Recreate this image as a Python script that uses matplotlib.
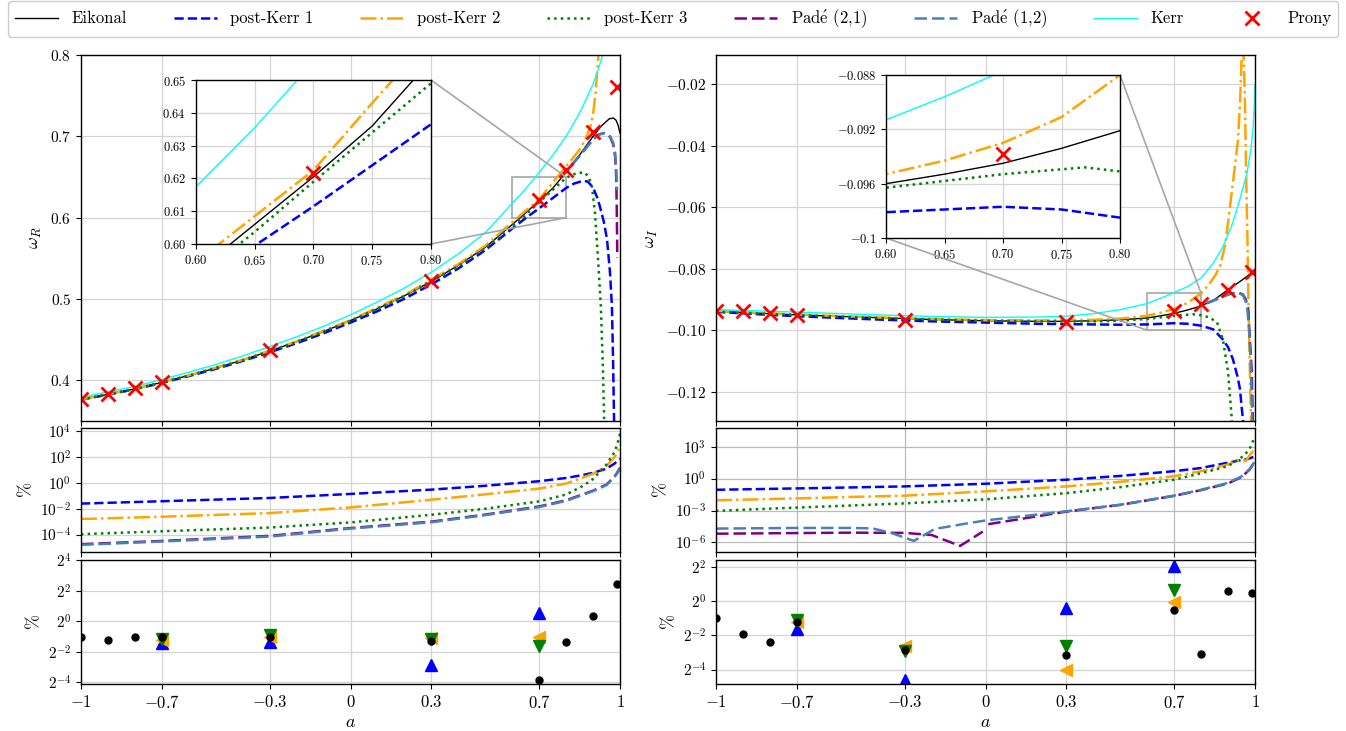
import numpy as np
import matplotlib
matplotlib.use('Agg')
import matplotlib.pyplot as plt
from matplotlib.ticker import NullLocator
from mpl_toolkits.axes_grid1.inset_locator import mark_inset

plt.rcParams['mathtext.fontset'] = 'cm'
plt.rcParams['font.family'] = ['cmr10', 'DejaVu Serif']
plt.rcParams['axes.formatter.use_mathtext'] = True
plt.rcParams['font.size'] = 11
plt.rcParams['axes.linewidth'] = 1.0

# ---------------- omega_R (top left) ----------------
a_eik_R = [-1.0, -0.9, -0.8, -0.7, -0.6, -0.5, -0.4, -0.3, -0.2, -0.1, 0.0, 0.1, 0.2, 0.3, 0.4, 0.5, 0.6, 0.65,
           0.7, 0.75, 0.8, 0.85, 0.9, 0.93, 0.96, 0.975, 0.985, 0.993, 1.0]
wR_eik = [0.3765, 0.3828, 0.3895, 0.3975, 0.4060, 0.4150, 0.4250, 0.4360, 0.4475, 0.4600, 0.4735, 0.4880, 0.5040,
          0.5215, 0.5415, 0.5635, 0.5915, 0.6060, 0.6205, 0.6360, 0.6560, 0.6770, 0.7000, 0.7125, 0.7215, 0.7225,
          0.7200, 0.7135, 0.7040]

a_pk1_R = [-1.0, -0.9, -0.8, -0.7, -0.6, -0.5, -0.4, -0.3, -0.2, -0.1, 0.0, 0.1, 0.2, 0.3, 0.4, 0.5, 0.6, 0.65,
           0.7, 0.75, 0.8, 0.83, 0.86, 0.88, 0.9, 0.915, 0.926, 0.94, 0.952, 0.963, 0.970, 0.974, 0.978, 0.981]
wR_pk1 = [0.3762, 0.3824, 0.3890, 0.3968, 0.4052, 0.4141, 0.4238, 0.4345, 0.4456, 0.4578, 0.4710, 0.4850, 0.5003,
          0.5180, 0.5375, 0.5600, 0.5865, 0.5995, 0.6115, 0.6240, 0.6365, 0.6420, 0.6450, 0.6445, 0.6370, 0.6250,
          0.6130, 0.5950, 0.5730, 0.5320, 0.4910, 0.4300, 0.3500, 0.3000]

a_pk2_R = [-1.0, -0.8, -0.6, -0.4, -0.2, 0.0, 0.2, 0.4, 0.5, 0.6, 0.65, 0.7, 0.75, 0.8, 0.85, 0.87, 0.89, 0.9,
           0.91, 0.92, 0.93]
wR_pk2 = [0.3766, 0.3896, 0.4061, 0.4252, 0.4478, 0.4740, 0.5048, 0.5428, 0.5655, 0.5945, 0.6085, 0.6225, 0.6430,
          0.6630, 0.6835, 0.6950, 0.7120, 0.7270, 0.7550, 0.8000, 0.8500]

a_pk3_R = [-1.0, -0.8, -0.6, -0.4, -0.2, 0.0, 0.2, 0.4, 0.5, 0.6, 0.65, 0.7, 0.75, 0.8, 0.84, 0.87, 0.885, 0.896,
           0.907, 0.918, 0.929, 0.937, 0.942]
wR_pk3 = [0.3764, 0.3894, 0.4058, 0.4247, 0.4471, 0.4730, 0.5034, 0.5405, 0.5622, 0.5895, 0.6037, 0.6190, 0.6340,
          0.6490, 0.6550, 0.6555, 0.6490, 0.6380, 0.6060, 0.5520, 0.4910, 0.4100, 0.3400]

a_p21_R = [0.82, 0.85, 0.9, 0.92, 0.94, 0.955, 0.965, 0.975, 0.982, 0.986, 0.988, 0.99]
wR_p21 = [0.6645, 0.6760, 0.6960, 0.7020, 0.7040, 0.7025, 0.6980, 0.6900, 0.6750, 0.6500, 0.6100, 0.5510]

a_p12_R = [0.82, 0.85, 0.9, 0.92, 0.94, 0.955, 0.965, 0.975, 0.982, 0.986, 0.989]
wR_p12 = [0.6645, 0.6760, 0.6960, 0.7020, 0.7040, 0.7030, 0.6990, 0.6920, 0.6800, 0.6600, 0.6340]

a_kerr_R = [-1.0, -0.9, -0.8, -0.7, -0.6, -0.5, -0.4, -0.3, -0.2, -0.1, 0.0, 0.1, 0.2, 0.3, 0.4, 0.5, 0.6, 0.65,
            0.7, 0.75, 0.8, 0.85, 0.9, 0.92, 0.94]
wR_kerr = [0.3790, 0.3858, 0.3925, 0.4010, 0.4100, 0.4195, 0.4300, 0.4415, 0.4535, 0.4665, 0.4805, 0.4965, 0.5135,
           0.5330, 0.5555, 0.5815, 0.6175, 0.6355, 0.6555, 0.6765, 0.7000, 0.7285, 0.7640, 0.7830, 0.8050]

a_prony = [-1.0, -0.9, -0.8, -0.7, -0.3, 0.3, 0.7, 0.8, 0.9, 0.99]
wR_prony = [0.3767, 0.3830, 0.3900, 0.3985, 0.4368, 0.5220, 0.6215, 0.6590, 0.7050, 0.7610]
wI_prony = [-0.0938, -0.0938, -0.0945, -0.0951, -0.0968, -0.0974, -0.0938, -0.0916, -0.0870, -0.0809]

# ---------------- omega_I (top right) ----------------
a_eik_I = [-1.0, -0.9, -0.8, -0.7, -0.6, -0.5, -0.4, -0.3, -0.2, -0.1, 0.0, 0.1, 0.2, 0.3, 0.4, 0.5, 0.6, 0.65,
           0.7, 0.75, 0.8, 0.85, 0.9, 0.95, 0.98, 1.0]
wI_eik = [-0.0938, -0.0942, -0.0946, -0.0950, -0.0953, -0.0956, -0.0959, -0.0962, -0.0965, -0.0967, -0.0969,
          -0.0970, -0.0971, -0.0971, -0.0969, -0.0966, -0.0960, -0.0953, -0.0945, -0.0934, -0.0921, -0.0900,
          -0.0868, -0.0838, -0.0818, -0.0804]

a_pk1_I = [-1.0, -0.8, -0.6, -0.4, -0.2, 0.0, 0.2, 0.4, 0.5, 0.6, 0.7, 0.75, 0.8, 0.845, 0.88, 0.9, 0.918, 0.935,
           0.944, 0.955, 0.962]
wI_pk1 = [-0.0940, -0.0950, -0.0958, -0.0965, -0.0971, -0.0975, -0.0979, -0.0981, -0.0982, -0.0981, -0.0977,
          -0.0979, -0.0985, -0.0997, -0.1029, -0.1055, -0.1094, -0.1150, -0.1190, -0.1290, -0.1350]

a_pk2_I = [-1.0, -0.8, -0.6, -0.4, -0.2, 0.0, 0.2, 0.4, 0.5, 0.6, 0.65, 0.7, 0.75, 0.8, 0.83, 0.85, 0.87, 0.89,
           0.907, 0.925, 0.937, 0.945, 0.95, 0.953, 0.957, 0.963, 0.967, 0.972, 0.976, 0.981, 0.987]
wI_pk2 = [-0.0937, -0.0945, -0.0952, -0.0958, -0.0963, -0.0967, -0.0968, -0.0966, -0.0962, -0.0953, -0.0943,
          -0.0930, -0.0911, -0.0880, -0.0850, -0.0825, -0.0793, -0.0720, -0.0600, -0.0470, -0.0380, -0.0250,
          -0.0120, 0.0050, -0.0080, -0.0274, -0.0490, -0.0705, -0.0920, -0.1136, -0.1350]

a_pk3_I = [-1.0, -0.8, -0.6, -0.4, -0.2, 0.0, 0.2, 0.4, 0.5, 0.6, 0.7, 0.77, 0.8, 0.83, 0.859, 0.881, 0.9, 0.914,
           0.92]
wI_pk3 = [-0.0939, -0.0947, -0.0954, -0.0960, -0.0965, -0.0969, -0.0971, -0.0971, -0.0969, -0.0963, -0.0953,
          -0.0948, -0.0951, -0.0958, -0.0974, -0.1030, -0.1136, -0.1290, -0.1350]

a_p21_I = [0.82, 0.85, 0.88, 0.91, 0.937, 0.955, 0.965, 0.974, 0.981, 0.988, 0.992]
wI_p21 = [-0.0912, -0.0902, -0.0890, -0.0881, -0.0877, -0.0884, -0.0898, -0.0925, -0.1029, -0.1136, -0.1300]

a_p12_I = [0.82, 0.85, 0.88, 0.91, 0.937, 0.955, 0.965, 0.972, 0.978, 0.984, 0.99]
wI_p12 = [-0.0912, -0.0902, -0.0890, -0.0881, -0.0877, -0.0886, -0.0905, -0.0935, -0.1000, -0.1100, -0.1300]

a_kerr_I = [-1.0, -0.8, -0.6, -0.4, -0.2, 0.0, 0.2, 0.3, 0.4, 0.5, 0.6, 0.65, 0.7, 0.75, 0.8, 0.845, 0.88, 0.918,
            0.945, 0.97, 0.985, 0.993, 0.998, 1.0]
wI_kerr = [-0.0933, -0.0938, -0.0944, -0.0950, -0.0955, -0.0958, -0.0957, -0.0954, -0.0946, -0.0933, -0.0913,
           -0.0896, -0.0877, -0.0858, -0.0830, -0.0782, -0.0730, -0.0650, -0.0570, -0.0490, -0.0410, -0.0340,
           -0.0260, -0.0200]

# ---------------- relative error of omega_R, % (middle left) ----------------
a_err_R = [-1.0, -0.7, -0.3, 0.0, 0.3, 0.5, 0.7, 0.8, 0.86, 0.9, 0.95, 0.98, 0.99, 1.0]
errR_pk1 = [2.5e-2, 3.8e-2, 6.8e-2, 1.4e-1, 3.0e-1, 6.0e-1, 1.35, 2.4, 4.0, 6.0, 12.6, 31.6, 50.0, 71.0]
errR_pk2 = [1.6e-3, 2.4e-3, 4.6e-3, 1.26e-2, 5.0e-2, 1.3e-1, 3.6e-1, 8.9e-1, 2.5, 5.0, 20.0, 100.0, 250.0, 720.0]
errR_pk3 = [1.07e-4, 1.8e-4, 3.5e-4, 8.7e-4, 3.4e-3, 1.0e-2, 3.7e-2, 1.26e-1, 5.5e-1, 2.0, 27.0, 250.0, 1000.0, 6300.0]
errR_p21 = [1.8e-5, 3.2e-5, 7.9e-5, 3.2e-4, 1.0e-3, 3.5e-3, 1.5e-2, 4.5e-2, 1.26e-1, 2.5e-1, 7.4e-1, 3.2, 6.3, 14.8]
errR_p12 = [1.6e-5, 2.9e-5, 7.0e-5, 2.9e-4, 9.0e-4, 3.2e-3, 1.35e-2, 4.1e-2, 1.15e-1, 2.3e-1, 6.8e-1, 3.0, 5.8, 13.5]

# ---------------- relative error of omega_I, % (middle right) ----------------
a_err_I = [-1.0, -0.7, -0.5, -0.3, 0.0, 0.3, 0.5, 0.7, 0.8, 0.9, 0.95, 0.967, 0.98, 1.0]
errI_pk1 = [8.9e-2, 1.2e-1, 1.48e-1, 1.86e-1, 3.3e-1, 7.9e-1, 1.8, 5.0, 10.0, 31.6, 56.0, 66.0, 79.0, 126.0]
errI_pk2 = [9.1e-3, 1.38e-2, 1.9e-2, 2.5e-2, 6.3e-2, 1.86e-1, 5.0e-1, 1.66, 5.0, 21.9, 66.0, 45.7, 158.0, 631.0]
errI_pk3 = [9.3e-4, 1.9e-3, 2.95e-3, 4.7e-3, 1.12e-2, 4.3e-2, 1.58e-1, 7.9e-1, 3.2, 15.1, 100.0, 250.0, 630.0, 9100.0]
a_errI_p12 = [-1.0, -0.7, -0.5, -0.42, -0.35, -0.266, -0.188, -0.1, 0.0, 0.3, 0.5, 0.7, 0.8, 0.9, 0.95, 0.98, 1.0]
errI_p12 = [2.0e-5, 2.3e-5, 2.3e-5, 2.1e-5, 7.9e-6, 1.4e-6, 1.86e-5, 4.5e-5, 1.17e-4, 8.5e-4, 3.5e-3, 2.5e-2,
            8.9e-2, 4.0e-1, 1.58, 7.9, 45.7]
a_errI_p21 = [-1.0, -0.7, -0.5, -0.3, -0.2, -0.094, -0.01, 0.0, 0.01, 0.3, 0.5, 0.7, 0.8, 0.9, 0.95, 0.98, 1.0]
errI_p21 = [6.6e-6, 7.6e-6, 8.3e-6, 7.9e-6, 5.0e-6, 4.7e-7, 1.05e-5, np.nan, 5.2e-5, 7.9e-4, 3.4e-3, 2.4e-2,
            8.3e-2, 3.5e-1, 1.4, 7.1, 40.0]

# ---------------- errors at the Prony points, % (bottom) ----------------
a_fit = [-0.7, -0.3, 0.3, 0.7]
ptR_prony = [0.493, 0.435, 0.5, 0.5, 0.486, 0.415, 0.0698, 0.384, 1.28, 5.54]
ptR_pk1 = [0.374, 0.398, 0.137, 1.47]
ptR_pk2 = [0.435, 0.5, 0.47, 0.5]
ptR_pk3 = [0.447, 0.525, 0.447, 0.33]
ptI_prony = [0.497, 0.268, 0.195, 0.438, 0.137, 0.111, 0.693, 0.119, 1.505, 1.414]
ptI_pk1 = [0.325, 0.041, 0.768, 4.11]
ptI_pk2 = [0.426, 0.164, 0.0608, 0.973]
ptI_pk3 = [0.476, 0.133, 0.164, 1.61]

sty = {
    'eik': dict(color='black', lw=1.0, ls='-', label='Eikonal'),
    'pk1': dict(color='blue', lw=1.8, ls='--', label='post-Kerr 1'),
    'pk2': dict(color='orange', lw=1.8, ls='-.', label='post-Kerr 2'),
    'pk3': dict(color='green', lw=1.8, ls=':', label='post-Kerr 3'),
    'p21': dict(color='purple', lw=1.8, ls=(0, (5, 2)), label=r'Pad$\acute{\mathrm{e}}$ (2,1)'),
    'p12': dict(color='steelblue', lw=1.8, ls=(0, (5, 2)), label=r'Pad$\acute{\mathrm{e}}$ (1,2)'),
    'kerr': dict(color='cyan', lw=1.0, ls='-', label='Kerr'),
}
prony_sty = dict(ls='none', marker='x', color='red', ms=10, mew=2, label='Prony')

curvesR = [('eik', a_eik_R, wR_eik), ('pk1', a_pk1_R, wR_pk1), ('pk2', a_pk2_R, wR_pk2),
           ('pk3', a_pk3_R, wR_pk3), ('p21', a_p21_R, wR_p21), ('p12', a_p12_R, wR_p12),
           ('kerr', a_kerr_R, wR_kerr)]
curvesI = [('eik', a_eik_I, wI_eik), ('pk1', a_pk1_I, wI_pk1), ('pk2', a_pk2_I, wI_pk2),
           ('pk3', a_pk3_I, wI_pk3), ('p21', a_p21_I, wI_p21), ('p12', a_p12_I, wI_p12),
           ('kerr', a_kerr_I, wI_kerr)]

xt = [-1, -0.7, -0.3, 0, 0.3, 0.7, 1]
xtl = ['$-1$', '$-0.7$', '$-0.3$', '$0$', '$0.3$', '$0.7$', '$1$']
grid_kw = dict(color='#d4d4d4', lw=0.9)


def draw(ax, curves, prony_y, amax=None):
    for key, a, w in curves:
        ax.plot(a, w, **sty[key])
    pa = np.array(a_prony)
    py = np.array(prony_y)
    if amax is not None:
        keep = pa < amax
        pa, py = pa[keep], py[keep]
    ax.plot(pa, py, **prony_sty)


def style(ax, label_x):
    ax.set_xlim(-1, 1)
    ax.set_xticks(xt, xtl if label_x else [])
    ax.grid(True, **grid_kw)
    ax.set_axisbelow(True)


fig = plt.figure(figsize=(13.46, 7.31), dpi=100)
W, H = 1346.0, 731.0


def box(x0, y0, x1, y1):
    return [x0 / W, 1 - y1 / H, (x1 - x0) / W, (y1 - y0) / H]


cols = [(81, 620), (716, 1255)]
rows = [(55, 421), (428, 552), (560, 684)]

# top panels
axR = fig.add_axes(box(cols[0][0], rows[0][0], cols[0][1], rows[0][1]))
axI = fig.add_axes(box(cols[1][0], rows[0][0], cols[1][1], rows[0][1]))
draw(axR, curvesR, wR_prony)
draw(axI, curvesI, wI_prony)
for ax in (axR, axI):
    style(ax, False)
axR.set_ylim(0.35, 0.8)
axR.set_yticks([0.4, 0.5, 0.6, 0.7, 0.8], ['$0.4$', '$0.5$', '$0.6$', '$0.7$', '$0.8$'])
axR.set_ylabel(r'$\omega_R$', fontsize=13)
axI.set_ylim(-0.1295, -0.0105)
axI.set_yticks([-0.12, -0.10, -0.08, -0.06, -0.04, -0.02],
               ['$-0.12$', '$-0.10$', '$-0.08$', '$-0.06$', '$-0.04$', '$-0.02$'])
axI.set_ylabel(r'$\omega_I$', fontsize=13)

# insets
insR = fig.add_axes(box(196, 80, 431, 244))
insI = fig.add_axes(box(886, 75, 1120, 238))
draw(insR, curvesR, wR_prony, amax=0.79)
draw(insI, curvesI, wI_prony, amax=0.79)
for ins in (insR, insI):
    ins.set_xlim(0.6, 0.8)
    ins.set_xticks([0.6, 0.65, 0.7, 0.75, 0.8], ['$0.60$', '$0.65$', '$0.70$', '$0.75$', '$0.80$'])
    ins.tick_params(labelsize=9)
    ins.grid(True, **grid_kw)
    ins.set_axisbelow(True)
insR.set_ylim(0.6, 0.65)
insR.set_yticks([0.6, 0.61, 0.62, 0.63, 0.64, 0.65],
                ['$0.60$', '$0.61$', '$0.62$', '$0.63$', '$0.64$', '$0.65$'])
insI.set_ylim(-0.1, -0.088)
insI.set_yticks([-0.1, -0.096, -0.092, -0.088], ['$-0.1$', '$-0.096$', '$-0.092$', '$-0.088$'])
mark_inset(axR, insR, loc1=1, loc2=4, fc='none', ec='0.65', lw=1.2)
mark_inset(axI, insI, loc1=1, loc2=3, fc='none', ec='0.65', lw=1.2)

# middle panels: relative error curves
emR = fig.add_axes(box(cols[0][0], rows[1][0], cols[0][1], rows[1][1]))
emI = fig.add_axes(box(cols[1][0], rows[1][0], cols[1][1], rows[1][1]))
for ax, sets in ((emR, [('pk1', a_err_R, errR_pk1), ('pk2', a_err_R, errR_pk2),
                        ('pk3', a_err_R, errR_pk3), ('p21', a_err_R, errR_p21),
                        ('p12', a_err_R, errR_p12)]),
                 (emI, [('pk1', a_err_I, errI_pk1), ('pk2', a_err_I, errI_pk2),
                        ('pk3', a_err_I, errI_pk3), ('p21', a_errI_p21, errI_p21),
                        ('p12', a_errI_p12, errI_p12)])):
    for key, a, e in sets:
        ax.plot(a, e, **sty[key])
    ax.set_yscale('log')
    ax.yaxis.set_minor_locator(NullLocator())
    style(ax, False)
    ax.set_ylabel(r'$\%$', fontsize=13)
emR.set_ylim(10 ** -5.35, 10 ** 4.25)
emR.set_yticks([1e-4, 1e-2, 1, 1e2, 1e4], ['$10^{-4}$', '$10^{-2}$', '$10^{0}$', '$10^{2}$', '$10^{4}$'])
emI.set_ylim(10 ** -6.9, 10 ** 4.76)
emI.set_yticks([1e-6, 1e-3, 1, 1e3], ['$10^{-6}$', '$10^{-3}$', '$10^{0}$', '$10^{3}$'])
emI.grid(True, color='#bbbbbb', lw=0.9)

# bottom panels: errors at the fitted points
ebR = fig.add_axes(box(cols[0][0], rows[2][0], cols[0][1], rows[2][1]))
ebI = fig.add_axes(box(cols[1][0], rows[2][0], cols[1][1], rows[2][1]))
for ax, p1, p2, p3, pp in ((ebR, ptR_pk1, ptR_pk2, ptR_pk3, ptR_prony),
                           (ebI, ptI_pk1, ptI_pk2, ptI_pk3, ptI_prony)):
    ax.plot(a_fit, p1, ls='none', marker='^', color='blue', ms=9)
    ax.plot(a_fit, p2, ls='none', marker='<', color='orange', ms=9)
    ax.plot(a_fit, p3, ls='none', marker='v', color='green', ms=9)
    ax.plot(a_prony, pp, ls='none', marker='o', color='black', ms=5)
    ax.set_yscale('log', base=2)
    ax.yaxis.set_minor_locator(NullLocator())
    style(ax, True)
    ax.set_ylabel(r'$\%$', fontsize=13)
    ax.set_xlabel('$a$', fontsize=13, labelpad=3)
    ax.tick_params(axis='x', labelsize=12)
ebR.set_ylim(2 ** -4.11, 2 ** 4.02)
ebR.set_yticks([2 ** -4, 2 ** -2, 1, 2 ** 2, 2 ** 4], ['$2^{-4}$', '$2^{-2}$', '$2^{0}$', '$2^{2}$', '$2^{4}$'])
ebI.set_ylim(2 ** -4.85, 2 ** 2.42)
ebI.set_yticks([2 ** -4, 2 ** -2, 1, 2 ** 2], ['$2^{-4}$', '$2^{-2}$', '$2^{0}$', '$2^{2}$'])

# legend across the top
handles, labels = axR.get_legend_handles_labels()
fig.legend(handles, labels, loc='lower left', ncol=8, mode='expand',
           bbox_to_anchor=(8 / W, 1 - 37 / H, 1330 / W, 34 / H), fontsize=12,
           handlelength=2.6, handletextpad=0.8, borderaxespad=0.0, frameon=True, framealpha=1.0,
           edgecolor='#cccccc')

fig.savefig('out.png', dpi=100)
